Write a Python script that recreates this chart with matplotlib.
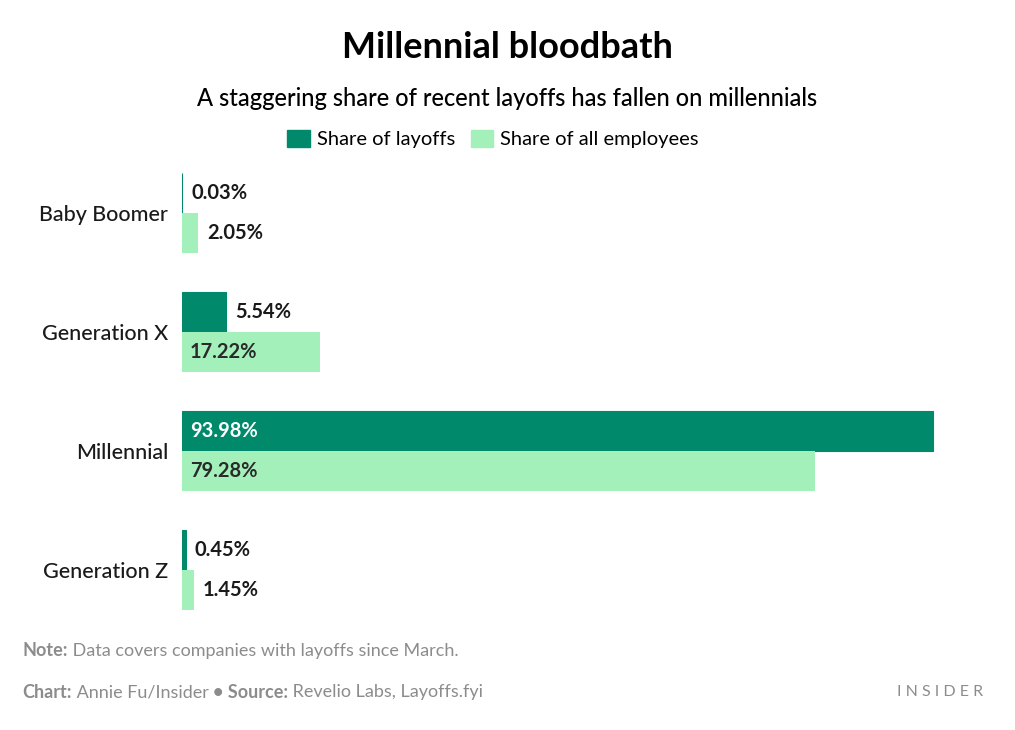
import matplotlib.pyplot as plt
from matplotlib.patches import Patch
import numpy as np

# datos
generaciones = ['Baby Boomer', 'Generation X', 'Millennial', 'Generation Z']
despidos = [0.03, 5.54, 93.98, 0.45]
empleados = [2.05, 17.22, 79.28, 1.45]

verde_oscuro = '#00896B'
verde_claro = '#A3F0BA'
texto = '#1a1a1a'
gris = '#8c8c8c'

plt.rcParams['font.family'] = ['Lato', 'DejaVu Sans']

fig = plt.figure(figsize=(10.15, 7.3), dpi=100)
W, H = 1015, 730
ax = fig.add_axes([182 / W, 1 - 629.5 / H, (981 - 182) / W, 476 / H])

y = np.arange(len(generaciones))
alto = 40 / 119
ax.barh(y - alto / 2, despidos, height=alto, color=verde_oscuro,
        edgecolor=verde_oscuro, linewidth=0.8)
ax.barh(y + alto / 2, empleados, height=alto, color=verde_claro)

ax.set_xlim(0, 100)
ax.set_ylim(3.5, -0.5)

for i in range(len(generaciones)):
    for val, off, dentro_color in [(despidos[i], -alto / 2, 'white'), (empleados[i], alto / 2, '#2a2a2a')]:
        etiqueta = f'{val:.2f}%'
        if val > 10:
            ax.annotate(etiqueta, (0, i + off), xytext=(8, 0), textcoords='offset pixels',
                        va='center', ha='left', fontsize=14.5, fontweight='bold', color=dentro_color)
        else:
            ax.annotate(etiqueta, (val, i + off), xytext=(9, 0), textcoords='offset pixels',
                        va='center', ha='left', fontsize=14.5, fontweight='bold', color=texto)

ax.set_yticks(y)
ax.set_yticklabels(generaciones, fontsize=15.5, color=texto, fontweight='medium')
ax.tick_params(axis='y', length=0, pad=10)
ax.set_xticks([])
for s in ax.spines.values():
    s.set_visible(False)

fig.text(0.5, 1 - 47 / H, 'Millennial bloodbath', ha='center', va='center',
         fontsize=26, fontweight='bold', color='black')
fig.text(0.5, 1 - 99 / H, 'A staggering share of recent layoffs has fallen on millennials',
         ha='center', va='center', fontsize=17, color='black', fontweight='medium')

handles = [Patch(color=verde_oscuro, label='Share of layoffs'),
           Patch(color=verde_claro, label='Share of all employees')]
fig.legend(handles=handles, loc='center', bbox_to_anchor=(493 / W, 1 - 139 / H), ncol=2,
           frameon=False, fontsize=14.5, handlelength=1.1, handleheight=0.95,
           handletextpad=0.35, columnspacing=0.8)

fig.canvas.draw()
r = fig.canvas.get_renderer()


def linea(ypix, partes):
    x = 22
    for txt, peso in partes:
        t = fig.text(x / W, 1 - ypix / H, txt, ha='left', va='center', fontsize=13,
                     color=gris, fontweight=peso)
        x = t.get_window_extent(r).x1


linea(651, [('Note:', 'bold'), (' Data covers companies with layoffs since March.', 'normal')])
linea(692, [('Chart:', 'bold'), (' Annie Fu/Insider ', 'normal'), ('\u2022 Source:', 'bold'),
            (' Revelio Labs, Layoffs.fyi', 'normal')])
fig.text(983 / W, 1 - 692 / H, 'I N S I D E R', ha='right', va='center', fontsize=11.5, color=gris)

fig.savefig('out.png', dpi=100)
